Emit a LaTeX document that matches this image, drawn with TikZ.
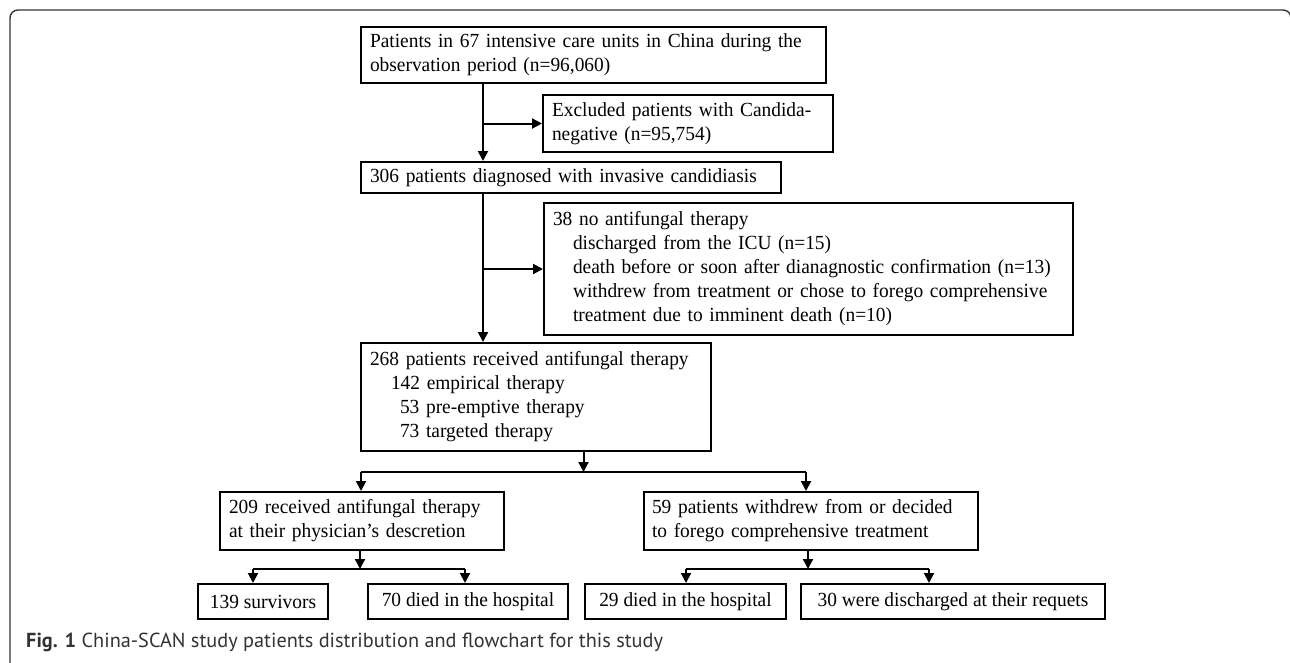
\documentclass[tikz,border=0pt]{standalone}
\usepackage{fontspec}
\setmainfont{Liberation Serif}[FakeStretch=0.97]
\newfontfamily\capfont{PT Sans}
\usetikzlibrary{arrows.meta}
\newcommand{\bxline}[1]{\mbox{#1}}
\tikzset{
  bx/.style={draw, line width=2pt, inner xsep=9pt, inner ysep=0pt, align=left,
    font=\fontsize{20}{24}\selectfont},
  cbx/.style={draw, line width=2pt, inner xsep=4pt, inner ysep=0pt, align=center,
    font=\fontsize{20}{24}\selectfont},
  arr/.style={line width=2pt, -{Triangle[length=10pt,width=10pt]}},
  seg/.style={line width=2pt},
  frame/.style={line width=1.4pt, black!80, rounded corners=8pt}
}
\begin{document}
\begin{tikzpicture}[x=1pt,y=-1pt]
\useasboundingbox (0,0) rectangle (1290,662);
\draw[frame] (10,675) -- (10,10) -- (1291,10) -- (1291,675);

\node[bx, text width=447pt, minimum width=465pt, minimum height=56pt] (top) at (593.5,55)
  {\bxline{Patients in 67 intensive care units in China during the}\\\bxline{observation period (n=96,060)}};
\node[bx, text width=272pt, minimum width=290pt, minimum height=57pt] (excl) at (688,123.5)
  {\bxline{Excluded patients with Candida-}\\\bxline{negative (n=95,754)}};
\node[bx, text width=402pt, minimum width=420pt, minimum height=31pt] (d306) at (571,177.5)
  {\bxline{306 patients diagnosed with invasive candidiasis}};
\node[bx, text width=511pt, minimum width=529pt, minimum height=132pt] (no38) at (808.5,269)
  {\bxline{38 no antifungal therapy}\\
   \bxline{\hspace*{20pt}discharged from the ICU (n=15)}\\
   \bxline{\hspace*{20pt}death before or soon after dianagnostic confirmation (n=13)}\\
   \bxline{\hspace*{20pt}withdrew from treatment or chose to forego comprehensive}\\
   \bxline{\hspace*{20pt}treatment due to imminent death (n=10)}};
\node[bx, text width=332pt, minimum width=350pt, minimum height=108pt] (r268) at (536,397)
  {\bxline{268 patients received antifungal therapy}\\
   \bxline{\hspace*{21pt}142 empirical therapy}\\
   \bxline{\hspace*{30pt}53 pre-emptive therapy}\\
   \bxline{\hspace*{30pt}73 targeted therapy}};
\node[bx, text width=266pt, minimum width=284pt, minimum height=58pt] (b209) at (362,521)
  {\bxline{209 received antifungal therapy}\\\bxline{at their physician's descretion}};
\node[bx, inner xsep=8pt, text width=318pt, minimum width=334pt, minimum height=58pt] (b59) at (811,521)
  {\bxline{59 patients withdrew from or decided}\\\bxline{to forego comprehensive treatment}};
\node[cbx, minimum width=130pt, minimum height=35pt] (s139) at (263,601.5) {139 survivors};
\node[cbx, minimum width=200pt, minimum height=35pt] (d70) at (468,601.5) {70 died in the hospital};
\node[cbx, minimum width=201pt, minimum height=35pt] (d29) at (685.5,601.5) {29 died in the hospital};
\node[cbx, minimum width=304pt, minimum height=35pt] (w30) at (953,601.5) {30 were discharged at their requets};

% main spine
\coordinate (v) at (483,0);
\draw[arr] (v |- top.south) -- (v |- d306.north);
\draw[arr] (v |- excl.west) -- (excl.west);
\draw[arr] (v |- d306.south) -- (v |- r268.north);
\draw[arr] (v |- no38.west) -- (no38.west);

% split after 268
\coordinate (j1) at (583.5,472);
\coordinate (j1l) at (361,472);
\coordinate (j1r) at (806,472);
\draw[arr] (j1 |- r268.south) -- (j1);
\draw[seg] (j1l) -- (j1r);
\draw[arr] (j1l) -- (j1l |- b209.north);
\draw[arr] (j1r) -- (j1r |- b59.north);

% split after 209
\coordinate (j2) at (360,569);
\coordinate (j2l) at (253,569);
\coordinate (j2r) at (465,569);
\draw[arr] (j2 |- b209.south) -- (j2);
\draw[seg] (j2l) -- (j2r);
\draw[arr] (j2l) -- (j2l |- s139.north);
\draw[arr] (j2r) -- (j2r |- d70.north);

% split after 59
\coordinate (j3) at (808,569);
\coordinate (j3l) at (686,569);
\coordinate (j3r) at (929,569);
\draw[arr] (j3 |- b59.south) -- (j3);
\draw[seg] (j3l) -- (j3r);
\draw[arr] (j3l) -- (j3l |- d29.north);
\draw[arr] (j3r) -- (j3r |- w30.north);

\node[anchor=base west, inner sep=0pt, text=black!80,
  font=\capfont\fontsize{20.3}{23}\selectfont] (cap) at (26,647)
  {\textbf{Fig. 1} China-SCAN study patients distribution and flowchart for this study};
\end{tikzpicture}
\end{document}
